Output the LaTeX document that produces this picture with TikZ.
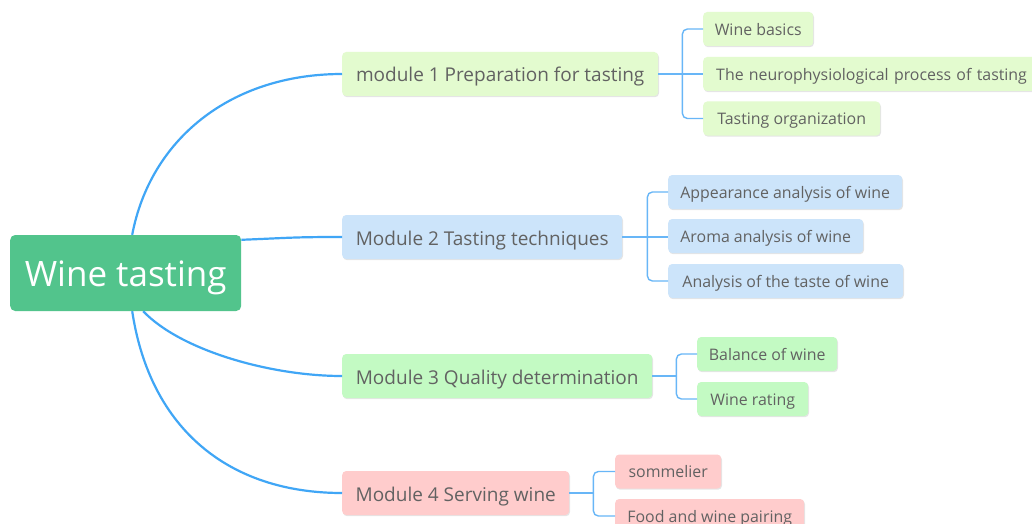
\documentclass[tikz,border=0pt]{standalone}
\usepackage{fontspec}
\setmainfont{Open Sans}
\usetikzlibrary{shadows}
\definecolor{rootgreen}{HTML}{52C48C}
\definecolor{fillA}{HTML}{E3FBCF}
\definecolor{fillB}{HTML}{CCE4FA}
\definecolor{fillC}{HTML}{C3FAC3}
\definecolor{fillD}{HTML}{FFCCCC}
\definecolor{txt}{HTML}{626262}
\definecolor{lineblue}{HTML}{40A6F6}
\definecolor{brblue}{HTML}{68B6F7}
\tikzset{
  box/.style={rounded corners=4pt, inner sep=0pt, anchor=west, text=txt,
    drop shadow={shadow xshift=0.8pt, shadow yshift=-1.2pt, fill=black, opacity=0.10}},
  modbox/.style={box, minimum height=44pt, text height=19.6pt, text depth=3.6pt,
    font=\fontsize{19}{22}\selectfont},
  leafbox/.style={box, minimum height=34pt, text height=15.4pt, text depth=3pt,
    font=\fontsize{15.9}{19}\selectfont},
  rootline/.style={draw=lineblue, line width=2.2pt},
  brline/.style={draw=brblue, line width=1.4pt, rounded corners=5pt},
}
\begin{document}
\begin{tikzpicture}[x=1pt,y=-1pt]
\useasboundingbox (0,0) rectangle (1032,524);
\fill[white] (0,0) rectangle (1032,524);

% root
\node[rounded corners=5pt, fill=rootgreen, text=white, minimum width=231pt, minimum height=76pt,
  inner sep=0pt, anchor=west, text height=33pt, text depth=6.6pt,
  font=\fontsize{35}{42}\selectfont] (root) at (10,273) {Wine tasting};

% modules
\node[modbox, fill=fillA, minimum width=316pt] (m1) at (342,74) {module 1 Preparation for tasting};
\node[modbox, fill=fillB, minimum width=280pt] (m2) at (342,237) {Module 2 Tasting techniques};
\node[modbox, fill=fillC, minimum width=310pt] (m3) at (342,376) {Module 3 Quality determination};
\node[modbox, fill=fillD, minimum width=227pt] (m4) at (342,493) {Module 4 Serving wine};

% leaves of module 1
\node[leafbox, fill=fillA, minimum width=110pt] (a1) at (703,29) {Wine basics};
\node[leafbox, fill=fillA, minimum width=345pt, text width=319pt, align=left] (a2) at (703,74) {The neurophysiological process of tasting};
\node[leafbox, fill=fillA, minimum width=177pt] (a3) at (703,118.5) {Tasting organization};

% leaves of module 2
\node[leafbox, fill=fillB, minimum width=234pt] (b1) at (668,192) {Appearance analysis of wine};
\node[leafbox, fill=fillB, minimum width=195pt] (b2) at (668,236) {Aroma analysis of wine};
\node[leafbox, fill=fillB, minimum width=235pt] (b3) at (668,281) {Analysis of the taste of wine};

% leaves of module 3
\node[leafbox, fill=fillC, minimum width=140pt] (c1) at (697,354) {Balance of wine};
\node[leafbox, fill=fillC, minimum width=111pt] (c2) at (697,399) {Wine rating};

% leaves of module 4
\node[leafbox, fill=fillD, minimum width=106pt] (d1) at (615,471.5) {sommelier};
\node[leafbox, fill=fillD, minimum width=189pt] (d2) at (615,516) {Food and wine pairing};

% root connectors
\draw[rootline] ([xshift=6.5pt]root.north) .. controls +(18,-95) and +(-112,0) .. (m1.west);
\draw[rootline] ([yshift=-5pt]root.north east) .. controls +(50,-2) and +(-50,0) .. (m2.west);
\draw[rootline] ([xshift=17.5pt]root.south) .. controls +(37,39) and +(-72,0) .. (m3.west);
\draw[rootline] ([xshift=6.5pt]root.south) .. controls +(18,119) and +(-112,0) .. (m4.west);

% brackets module 1
\draw[brline] (m1.east) -- (m1.east -| a2.west);
\draw[brline] ([xshift=24pt]m1.east) |- (a1.west);
\draw[brline] ([xshift=24pt]m1.east) |- (a3.west);
% brackets module 2
\draw[brline] (m2.east) -- (m2.east -| b2.west);
\draw[brline] ([xshift=25pt]m2.east) |- (b1.west);
\draw[brline] ([xshift=25pt]m2.east) |- (b3.west);
% brackets module 3
\draw[brline] (m3.east) -- ([xshift=24pt]m3.east);
\draw[brline] ([xshift=24pt]m3.east) |- (c1.west);
\draw[brline] ([xshift=24pt]m3.east) |- (c2.west);
% brackets module 4
\draw[brline] (m4.east) -- ([xshift=24pt]m4.east);
\draw[brline] ([xshift=24pt]m4.east) |- (d1.west);
\draw[brline] ([xshift=24pt]m4.east) |- (d2.west);
\end{tikzpicture}
\end{document}
